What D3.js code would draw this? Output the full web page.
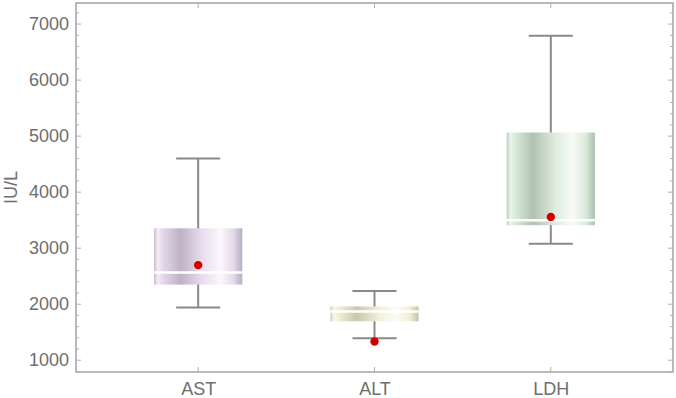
<!DOCTYPE html>
<html>
<head>
<meta charset="utf-8">
<script src="https://cdn.jsdelivr.net/npm/d3@7"></script>
<style>
  body { margin: 0; background: #fff; }
  text { font-family: "Liberation Sans", Arial, sans-serif; }
</style>
</head>
<body>
<div id="chart"></div>
<script>
// box plot data (IU/L)
const categories = ["AST", "ALT", "LDH"];
const whiskerHigh = [4600, 2235, 6790];
const q3Values = [3355, 1960, 5065];
const medians = [2565, 1872, 3500];
const q1Values = [2350, 1695, 3410];
const whiskerLow = [1940, 1392, 3080];
const means = [2697, 1335, 3558];
const yTicks = [1000, 2000, 3000, 4000, 5000, 6000, 7000];

// base colours of the three boxes
const baseColors = ["#e0d3e8", "#ececcf", "#d3e6d3"];

const width = 676, height = 398;
const margin = {top: 3, right: 3, bottom: 26, left: 76};

const svg = d3.select("#chart").append("svg")
    .attr("width", width)
    .attr("height", height);

const x = d3.scalePoint()
    .domain(categories)
    .range([margin.left, width - margin.right])
    .padding(0.693);

const y = d3.scaleLinear()
    .domain([790, 7376])
    .range([height - margin.bottom, margin.top]);

const boxW = x.step() * 0.5;
const capW = boxW * 0.5;

// glossy cylinder gradients (horizontal)
const shadeStops = [
    [0, -0.55], [0.04, 0.6], [0.1, 0.1], [0.3, -0.7],
    [0.55, 0.25], [0.75, 0.85], [0.9, 0.15], [1, -0.8]
];
const defs = svg.append("defs");
baseColors.forEach((c, i) => {
    let dark = d3.color(c).darker(0.7).formatHex();
    let g = defs.append("linearGradient")
        .attr("id", "grad" + i)
        .attr("x1", "0%").attr("x2", "100%")
        .attr("y1", "0%").attr("y2", "0%");
    shadeStops.forEach(s => {
        let col = s[1] >= 0 ? d3.interpolateRgb(c, "#ffffff")(s[1]) : d3.interpolateRgb(c, dark)(-s[1]);
        g.append("stop").attr("offset", s[0]).attr("stop-color", col);
    });
});

const plot = svg.append("g");

const boxes = categories.map((c, i) => ({
    name: c, hi: whiskerHigh[i], q3: q3Values[i], med: medians[i],
    q1: q1Values[i], lo: whiskerLow[i], mean: means[i], idx: i
}));

// whiskers
plot.selectAll(".whisker")
    .data(boxes)
    .enter().append("line")
    .attr("class", "whisker")
    .attr("x1", d => x(d.name)).attr("x2", d => x(d.name))
    .attr("y1", d => y(d.lo)).attr("y2", d => y(d.hi))
    .attr("stroke", "#8a8a8a").attr("stroke-width", 2);

["hi", "lo"].forEach(k => {
    plot.selectAll(".cap-" + k)
        .data(boxes)
        .enter().append("line")
        .attr("class", "cap-" + k)
        .attr("x1", d => x(d.name) - capW / 2).attr("x2", d => x(d.name) + capW / 2)
        .attr("y1", d => y(d[k])).attr("y2", d => y(d[k]))
        .attr("stroke", "#8a8a8a").attr("stroke-width", 2);
});

// boxes
plot.selectAll(".box")
    .data(boxes)
    .enter().append("rect")
    .attr("class", "box")
    .attr("x", d => x(d.name) - boxW / 2)
    .attr("width", boxW)
    .attr("y", d => y(d.q3))
    .attr("height", d => y(d.q1) - y(d.q3))
    .attr("fill", d => "url(#grad" + d.idx + ")");

// medians
plot.selectAll(".median")
    .data(boxes)
    .enter().append("line")
    .attr("class", "median")
    .attr("x1", d => x(d.name) - boxW / 2).attr("x2", d => x(d.name) + boxW / 2)
    .attr("y1", d => y(d.med)).attr("y2", d => y(d.med))
    .attr("stroke", "#ffffff").attr("stroke-width", 2.5);

// means
plot.selectAll(".mean")
    .data(boxes)
    .enter().append("circle")
    .attr("class", "mean")
    .attr("cx", d => x(d.name))
    .attr("cy", d => y(d.mean))
    .attr("r", 4.2)
    .attr("fill", "#d40000");

// frame
const frameColor = "#8c8c8c";
svg.append("rect")
    .attr("x", margin.left).attr("y", margin.top)
    .attr("width", width - margin.left - margin.right)
    .attr("height", height - margin.top - margin.bottom)
    .attr("fill", "none")
    .attr("stroke", frameColor).attr("stroke-width", 1.2);

// inside ticks, major and minor, left and right
const minorTicks = d3.range(800, 7400, 200).filter(v => v % 1000 !== 0);
const xl = margin.left, xr = width - margin.right;
const tickG = svg.append("g").attr("stroke", "#b0b0b0").attr("stroke-width", 1);
yTicks.forEach(v => {
    tickG.append("line").attr("x1", xl).attr("x2", xl + 5).attr("y1", y(v)).attr("y2", y(v));
    tickG.append("line").attr("x1", xr).attr("x2", xr - 5).attr("y1", y(v)).attr("y2", y(v));
});
minorTicks.forEach(v => {
    tickG.append("line").attr("x1", xl).attr("x2", xl + 3).attr("y1", y(v)).attr("y2", y(v));
    tickG.append("line").attr("x1", xr).attr("x2", xr - 3).attr("y1", y(v)).attr("y2", y(v));
});
categories.forEach(c => {
    tickG.append("line").attr("x1", x(c)).attr("x2", x(c))
        .attr("y1", height - margin.bottom).attr("y2", height - margin.bottom - 5);
    tickG.append("line").attr("x1", x(c)).attr("x2", x(c))
        .attr("y1", margin.top).attr("y2", margin.top + 5);
});

// y axis labels
const yAxis = d3.axisLeft(y).tickValues(yTicks).tickSize(0).tickPadding(7).tickFormat(d3.format("d"));
const gy = svg.append("g")
    .attr("transform", `translate(${margin.left},0)`)
    .call(yAxis);
gy.select(".domain").remove();
gy.selectAll("text").attr("font-size", 18).attr("fill", "#6e6e6e")
    .attr("font-family", "Liberation Sans, Arial, sans-serif");

// x axis labels
const xAxis = d3.axisBottom(x).tickSize(0).tickPadding(10);
const gx = svg.append("g")
    .attr("transform", `translate(0,${height - margin.bottom})`)
    .call(xAxis);
gx.select(".domain").remove();
gx.selectAll("text").attr("font-size", 18).attr("fill", "#6e6e6e")
    .attr("font-family", "Liberation Sans, Arial, sans-serif");

// y axis title
svg.append("text")
    .attr("transform", `translate(17,${(margin.top + height - margin.bottom) / 2}) rotate(-90)`)
    .attr("text-anchor", "middle")
    .attr("font-size", 18)
    .attr("fill", "#6e6e6e")
    .text("IU/L");
</script>
</body>
</html>
